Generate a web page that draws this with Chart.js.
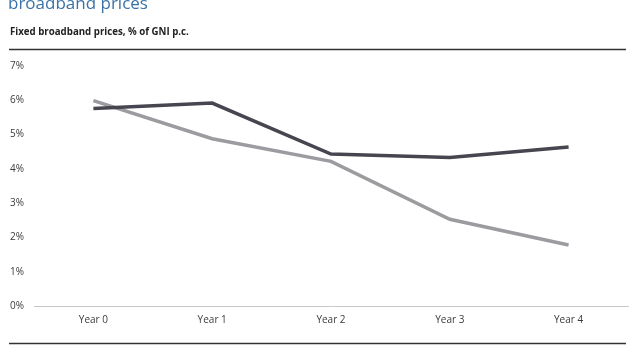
<!DOCTYPE html>
<html>
<head>
<meta charset="utf-8">
<script src="https://cdn.jsdelivr.net/npm/chart.js@4/dist/chart.umd.min.js"></script>
<style>
  html, body { margin: 0; padding: 0; background: #fff; }
  #wrap { width: 633px; height: 350px; position: relative; }
</style>
</head>
<body>
<div id="wrap"><canvas id="chart"></canvas></div>
<script>
// Fixed broadband prices as % of GNI per capita
const labels = ['Year 0', 'Year 1', 'Year 2', 'Year 3', 'Year 4'];
const darkSeries = [5.76, 5.92, 4.43, 4.33, 4.64];
const lightSeries = [5.99, 4.88, 4.22, 2.53, 1.78];
const yTicks = [0, 1, 2, 3, 4, 5, 6, 7];

const fontFamily = '"Open Sans", "DejaVu Sans", sans-serif';

const ctx = document.getElementById('chart').getContext('2d');

new Chart(ctx, {
    type: 'line',
    data: {
        labels: labels,
        datasets: [
            {
                label: 'Series A',
                data: darkSeries,
                borderColor: '#47454f',
                borderWidth: 3.5,
                pointRadius: 0,
                tension: 0,
                fill: false
            },
            {
                label: 'Series B',
                data: lightSeries,
                borderColor: '#9c9ba0',
                borderWidth: 3.5,
                pointRadius: 0,
                tension: 0,
                fill: false
            }
        ]
    },
    options: {
        responsive: true,
        maintainAspectRatio: false,
        animation: false,
        layout: {
            padding: { top: 66, left: 10, right: 5, bottom: 0 }
        },
        plugins: {
            legend: { display: false },
            tooltip: { enabled: false }
        },
        scales: {
            x: {
                offset: true,
                grid: { display: false, drawTicks: false },
                border: { display: true, color: '#c8c8c8', width: 1 },
                ticks: {
                    color: '#3a3a3a',
                    font: { family: fontFamily, size: 10 },
                    padding: 8,
                    maxRotation: 0
                },
                afterFit: function (scale) { scale.height = 44; }
            },
            y: {
                min: 0,
                max: 7,
                afterBuildTicks: function (scale) {
                    scale.ticks = yTicks.map(v => ({ value: v }));
                },
                grid: { display: false, drawTicks: false },
                border: { display: false },
                ticks: {
                    color: '#3a3a3a',
                    font: { family: fontFamily, size: 10 },
                    crossAlign: 'far',
                    padding: 0,
                    callback: function (value) { return value + '%'; }
                },
                afterFit: function (scale) { scale.width = 24; }
            }
        }
    },
    plugins: [{
        id: 'headerRules',
        afterDraw: function (chart) {
            const c = chart.ctx;
            c.save();
            // cut-off heading at the very top
            c.fillStyle = '#3a72a8';
            c.font = '17px ' + fontFamily;
            c.textBaseline = 'alphabetic';
            c.fillText('broadband prices', 8, 9);

            // chart subtitle
            c.fillStyle = '#222';
            c.font = 'bold 9.7px ' + fontFamily;
            c.fillText('Fixed broadband prices, % of GNI p.c.', 10, 35);

            // rules above and below the chart
            c.strokeStyle = '#333';
            c.lineWidth = 1.5;
            c.beginPath();
            c.moveTo(9, 49.5);
            c.lineTo(626, 49.5);
            c.moveTo(9, 343.5);
            c.lineTo(626, 343.5);
            c.stroke();
            c.restore();
        }
    }]
});
</script>
</body>
</html>
